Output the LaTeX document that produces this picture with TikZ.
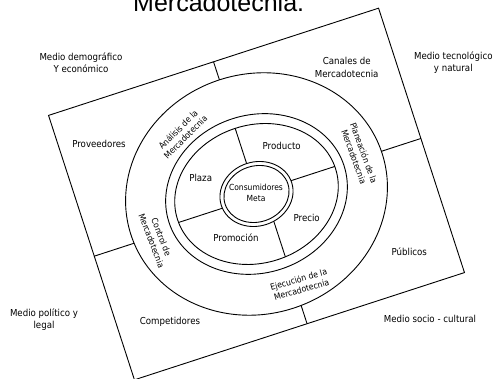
\documentclass[tikz,border=0pt]{standalone}
\usepackage{fontspec}
\setmainfont{DejaVu Sans Condensed}
\newfontfamily\titlefont{Liberation Sans}
\begin{document}
\begin{tikzpicture}[x=1pt, y=1pt]
\def\labelfont{\fontsize{9.6}{12.3}\selectfont}
\def\ringfont{\fontsize{8.6}{10.5}\selectfont}
\def\metafont{\fontsize{8.4}{11}\selectfont}
\def\linewd{0.9pt}
\useasboundingbox (0,0) rectangle (495,379);

% TITLE (cut at the top edge)
\node [anchor=base west, inner sep=0, font=\titlefont\fontsize{25}{30}\selectfont] (title) at (133,367.3) {Mercadotecnia.};

\begin{scope}[shift={(256.5,185)}, rotate=18, line width=\linewd] % ROTATED FRAME

\draw (-173.5,-139) rectangle (173.5,139);
\draw (0,0) ellipse [x radius=132, y radius=120];
\draw (0,0) ellipse [x radius=92, y radius=79];
\draw (0,0) ellipse [x radius=83, y radius=69];
\draw (0,0) ellipse [x radius=37, y radius=32];
\draw (0,0) ellipse [x radius=33, y radius=28];

% outer dividers
\draw (0,120) -- (0,139);
\draw (132,2) -- (173.5,2);
\draw (-131.6,-9) -- (-173.5,-9);
\draw (8,-119.8) -- (8,-139);

% inner dividers
\draw (0,32) -- (0,69);
\draw (37,2) -- (83,2);
\draw (-37,-3) -- (-83,-3);
\draw (8,-31.2) -- (8,-68.7);
\end{scope}

% ENVIRONMENT
\node [align=center, font=\labelfont] (demografico) at (81,316) {Medio demográfico\\Y económico};
\node [align=center, font=\labelfont] (tecnologico) at (453.3,316.2) {Medio tecnológico\\y natural};
\node [align=center, font=\labelfont] (politico) at (44,59) {Medio político y\\legal};
\node [align=center, font=\labelfont] (social) at (430,60) {Medio socio - cultural};

% ACTORS
\node [align=center, font=\labelfont] (proveedores) at (99,234.7) {Proveedores};
\node [align=center, font=\labelfont] (canales) at (346.7,311.5) {Canales de\\Mercadotecnia};
\node [align=center, font=\labelfont] (publicos) at (409.3,127.3) {Públicos};
\node [align=center, font=\labelfont] (competidores) at (170,56.7) {Competidores};

% MARKETING MIX
\node [align=center, font=\labelfont] (producto) at (281.7,233) {Producto};
\node [align=center, font=\labelfont] (plaza) at (200.7,200.7) {Plaza};
\node [align=center, font=\labelfont] (precio) at (306.7,160.7) {Precio};
\node [align=center, font=\labelfont] (promocion) at (236,141.3) {Promoción};
\node [align=center, font=\metafont] (meta) at (256,186.2) {Consumidores\\Meta};

% RING LABELS
\node [align=center, font=\ringfont, rotate=45] (analisis) at (181.7,245.7) {Análisis de la\\Mercadotecnia};
\node [align=center, font=\ringfont, rotate=-70] (planeacion) at (359,224) {Planeación de la\\Mercadotecnia};
\node [align=center, font=\ringfont, rotate=-69] (control) at (156.5,140) {Control de\\Mercadotecnia};
\node [align=center, font=\ringfont, rotate=16] (ejecucion) at (300,94.5) {Ejecución de la\\Mercadotecnia};
\end{tikzpicture}
\end{document}
